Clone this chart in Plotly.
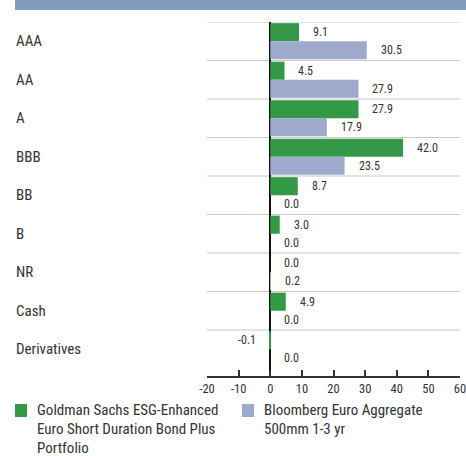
import plotly.graph_objects as go

categories = ["AAA", "AA", "A", "BBB", "BB", "B", "NR", "Cash", "Derivatives"]
fund_values = [9.1, 4.5, 27.9, 42.0, 8.7, 3.0, 0.0, 4.9, -0.1]
bench_values = [30.5, 27.9, 17.9, 23.5, 0.0, 0.0, 0.2, 0.0, 0.0]
fund_name_lines = ["Goldman Sachs ESG-Enhanced", "Euro Short Duration Bond Plus", "Portfolio"]
bench_name_lines = ["Bloomberg Euro Aggregate", "500mm 1-3 yr"]
x_ticks = [-20, -10, 0, 10, 20, 30, 40, 50, 60]

GREEN = "#339947"
LAV = "#9eaacb"
BANNER = "#7f9bc0"
TEXT = "#333333"
FONT = "Liberation Sans Narrow, Arial Narrow, Roboto Condensed, sans-serif"

W, H = 466, 456
L, R, T, B = 207, 6, 22, 80
PW = W - L - R
PH = H - T - B


def px_x(px):
    return (px - L) / PW


def px_y(py):
    return (T + PH - py) / PH


ypos = list(range(len(categories)))
fig = go.Figure()
fig.add_trace(go.Bar(y=ypos, x=fund_values, orientation="h", marker_color=GREEN,
                     marker_line_width=0, name=" ".join(fund_name_lines), offsetgroup="f"))
fig.add_trace(go.Bar(y=ypos, x=bench_values, orientation="h", marker_color=LAV,
                     marker_line_width=0, name=" ".join(bench_name_lines), offsetgroup="b"))

ann = []
shapes = []
# value labels
for i, (fv, bv) in enumerate(zip(fund_values, bench_values)):
    for v, off in ((fv, -0.235), (bv, 0.235)):
        ann.append(dict(x=v, y=i + off, xref="x", yref="y", text=f"{v:.1f}",
                        showarrow=False, xanchor="left" if v >= 0 else "right",
                        xshift=12 if v >= 0 else -12,
                        font=dict(size=12, color=TEXT, family=FONT)))
# category labels
for i, c in enumerate(categories):
    ann.append(dict(x=px_x(14), y=i, xref="paper", yref="y", text=c, showarrow=False,
                    xanchor="left", font=dict(size=15, color=TEXT, family=FONT)))
    shapes.append(dict(type="line", xref="paper", yref="y", x0=0, x1=1, y0=i - 0.5, y1=i - 0.5,
                       line=dict(color="#c8c8c8", width=1.2), layer="below"))

# banner
shapes.append(dict(type="rect", xref="paper", yref="paper", x0=px_x(15), x1=px_x(470),
                   y0=px_y(10), y1=px_y(-4), fillcolor=BANNER, line_width=0))

# legend
shapes.append(dict(type="rect", xref="paper", yref="paper", x0=px_x(15), x1=px_x(27),
                   y0=px_y(417), y1=px_y(404), fillcolor=GREEN, line_width=0))
shapes.append(dict(type="rect", xref="paper", yref="paper", x0=px_x(242), x1=px_x(254),
                   y0=px_y(417), y1=px_y(404), fillcolor=LAV, line_width=0))
for k, line in enumerate(fund_name_lines):
    ann.append(dict(x=px_x(35), y=px_y(410 + 19 * k), xref="paper", yref="paper", text=line,
                    showarrow=False, xanchor="left", yanchor="middle",
                    font=dict(size=15, color=TEXT, family=FONT)))
for k, line in enumerate(bench_name_lines):
    ann.append(dict(x=px_x(262), y=px_y(410 + 19 * k), xref="paper", yref="paper", text=line,
                    showarrow=False, xanchor="left", yanchor="middle",
                    font=dict(size=15, color=TEXT, family=FONT)))

n_units = PH / 38.5
fig.update_layout(
    width=W, height=H,
    margin=dict(l=L, r=R, t=T, b=B, autoexpand=False),
    paper_bgcolor="white", plot_bgcolor="white",
    barmode="group", bargap=0.06, bargroupgap=0,
    showlegend=False,
    annotations=ann, shapes=shapes,
    font=dict(family=FONT, color=TEXT, size=12),
    xaxis=dict(range=[-20, 60], tickvals=x_ticks, ticktext=[str(t) for t in x_ticks],
               showgrid=False, zeroline=True, zerolinecolor="#111111", zerolinewidth=1.5,
               showline=True, linecolor="#333333", linewidth=1.5,
               ticks="inside", ticklen=6, tickwidth=1.5, tickcolor="#333333",
               ticklabeloverflow="allow", automargin=False,
               tickfont=dict(size=12.5, color=TEXT, family=FONT)),
    yaxis=dict(range=[-0.5 + n_units, -0.5], showticklabels=False, showgrid=False,
               zeroline=False, ticks="", automargin=False),
)
fig.write_html("out.html", config={"displayModeBar": False},
               post_script="document.body.style.margin='0';document.body.style.overflow='hidden';")
